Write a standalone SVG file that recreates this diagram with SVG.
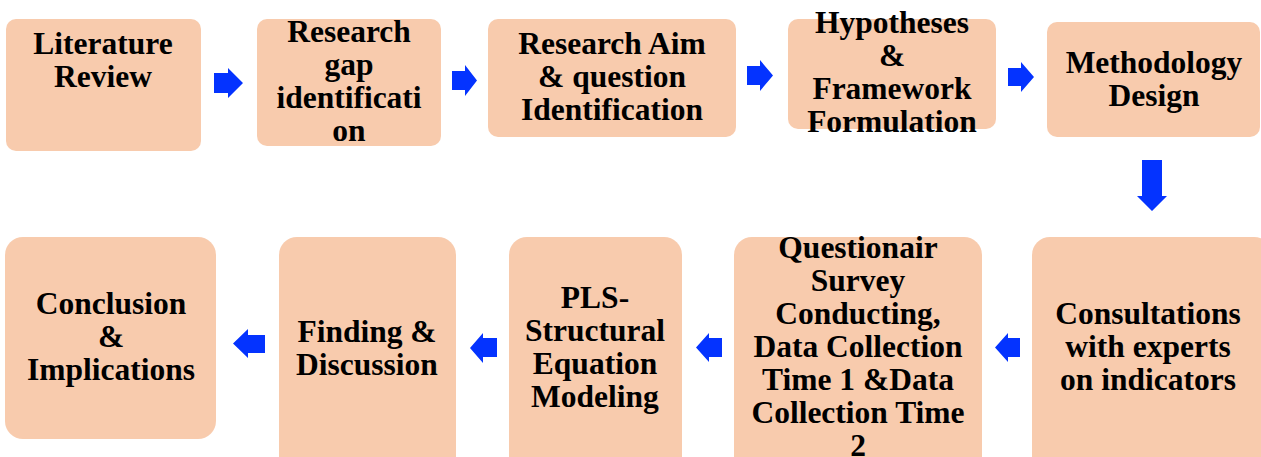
<svg xmlns="http://www.w3.org/2000/svg" width="1261" height="457" viewBox="0 0 1261 457">
  <style>
    .box { fill: #F8CBAD; }
    .lbl { font-family: "Liberation Serif", "Times New Roman", serif; font-weight: bold; font-size: 31.5px; fill: #000; text-anchor: middle; }
    .arrow { fill: #0433FF; }
  </style>
  <rect width="1261" height="457" fill="#FFFFFF"/>

  <!-- top row -->
  <g id="literature-review">
    <rect class="box" x="6" y="19" width="195" height="132" rx="10"/>
    <text class="lbl" x="103" y="54">Literature</text>
    <text class="lbl" x="103" y="87">Review</text>
  </g>
  <g id="research-gap">
    <rect class="box" x="257" y="19" width="184" height="127" rx="10"/>
    <text class="lbl" x="349" y="42">Research</text>
    <text class="lbl" x="349" y="75">gap</text>
    <text class="lbl" x="349" y="108">identificati</text>
    <text class="lbl" x="349" y="141">on</text>
  </g>
  <g id="research-aim">
    <rect class="box" x="488" y="19" width="248" height="118" rx="10"/>
    <text class="lbl" x="612" y="54">Research Aim</text>
    <text class="lbl" x="612" y="87">&amp; question</text>
    <text class="lbl" x="612" y="120">Identification</text>
  </g>
  <g id="hypotheses">
    <rect class="box" x="788" y="19" width="208" height="110" rx="10"/>
    <text class="lbl" x="892" y="33">Hypotheses</text>
    <text class="lbl" x="892" y="66">&amp;</text>
    <text class="lbl" x="892" y="99">Framework</text>
    <text class="lbl" x="892" y="132">Formulation</text>
  </g>
  <g id="methodology-design">
    <rect class="box" x="1047" y="22" width="213" height="115" rx="10"/>
    <text class="lbl" x="1154" y="73">Methodology</text>
    <text class="lbl" x="1154" y="106">Design</text>
  </g>

  <!-- bottom row -->
  <g id="consultations">
    <rect class="box" x="1032" y="237" width="240" height="240" rx="18"/>
    <text class="lbl" x="1148" y="324">Consultations</text>
    <text class="lbl" x="1148" y="357">with experts</text>
    <text class="lbl" x="1148" y="390">on indicators</text>
  </g>
  <g id="questionnaire-survey">
    <rect class="box" x="734" y="237" width="248" height="240" rx="18"/>
    <text class="lbl" x="858" y="258">Questionair</text>
    <text class="lbl" x="858" y="291">Survey</text>
    <text class="lbl" x="858" y="324">Conducting,</text>
    <text class="lbl" x="858" y="357">Data Collection</text>
    <text class="lbl" x="858" y="390">Time 1 &amp;Data</text>
    <text class="lbl" x="858" y="423">Collection Time</text>
    <text class="lbl" x="858" y="456">2</text>
  </g>
  <g id="pls-sem">
    <rect class="box" x="509" y="237" width="173" height="240" rx="18"/>
    <text class="lbl" x="595" y="308">PLS-</text>
    <text class="lbl" x="595" y="341">Structural</text>
    <text class="lbl" x="595" y="374">Equation</text>
    <text class="lbl" x="595" y="407">Modeling</text>
  </g>
  <g id="finding-discussion">
    <rect class="box" x="279" y="237" width="177" height="240" rx="18"/>
    <text class="lbl" x="367" y="342">Finding &amp;</text>
    <text class="lbl" x="367" y="375">Discussion</text>
  </g>
  <g id="conclusion">
    <rect class="box" x="5" y="237" width="211" height="202" rx="18"/>
    <text class="lbl" x="111" y="314">Conclusion</text>
    <text class="lbl" x="111" y="347">&amp;</text>
    <text class="lbl" x="111" y="380">Implications</text>
  </g>

  <!-- block arrows between steps -->
  <g id="connectors">
    <path class="arrow" d="M214,73 H228 V68 L243,83 L228,98 V93 H214 Z"/>
    <path class="arrow" d="M452,71 H465 V65 L477,80.5 L465,96 V90 H452 Z"/>
    <path class="arrow" d="M747,66 H760 V60 L773,75.5 L760,91 V85 H747 Z"/>
    <path class="arrow" d="M1008,68 H1021 V62 L1034,77 L1021,92 V86 H1008 Z"/>
    <path class="arrow" d="M1142,160 H1162 V196 H1167 L1152,211 L1137,196 H1142 Z"/>
    <path class="arrow" d="M1020,338 H1008 V333 L995,347.5 L1008,362 V357 H1020 Z"/>
    <path class="arrow" d="M722,338 H709 V333 L696,347.5 L709,362 V357 H722 Z"/>
    <path class="arrow" d="M497,338 H483 V333 L470,348 L483,363 V357 H497 Z"/>
    <path class="arrow" d="M265,335 H248 V329 L233,343.5 L248,358 V353 H265 Z"/>
  </g>
</svg>
